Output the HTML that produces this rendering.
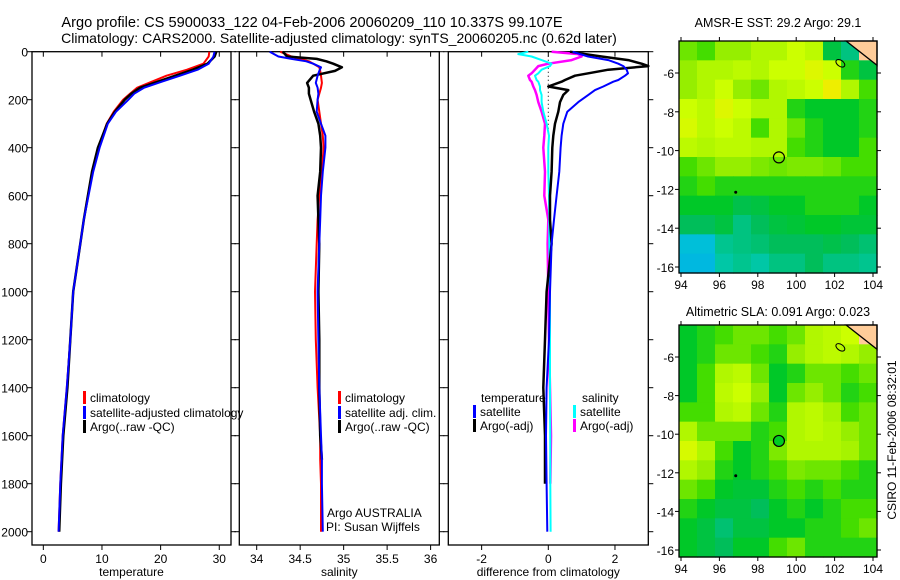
<!DOCTYPE html>
<html><head><meta charset="utf-8"><style>
body{margin:0;background:#fff;}
svg{display:block;font-family:"Liberation Sans",sans-serif;}
</style></head><body>
<svg id="s" width="900" height="580" viewBox="0 0 900 580">
<text x="312" y="27" font-size="14.6" text-anchor="middle">Argo profile: CS 5900033_122 04-Feb-2006 20060209_110 10.337S 99.107E</text>
<text x="339" y="43" font-size="14" text-anchor="middle">Climatology: CARS2000. Satellite-adjusted climatology: synTS_20060205.nc (0.62d later)</text>
<text x="778" y="27" font-size="12.5" text-anchor="middle">AMSR-E SST: 29.2 Argo: 29.1</text>
<text x="778" y="316" font-size="12.5" text-anchor="middle">Altimetric SLA: 0.091 Argo: 0.023</text>
<text transform="translate(896,440) rotate(-90)" font-size="12" text-anchor="middle">CSIRO 11-Feb-2006 08:32:01</text>
<g id="g"></g>
</svg>
<script>
// ---------- profile data ----------
const tDepth = [0,20,50,75,100,125,150,175,200,250,300,400,500,600,700,800,1000,1200,1400,1600,1800,2000];
const tClim  = [28.3,28.2,27.3,24.5,21,18.5,16,14.8,13.6,12,10.8,9.4,8.4,7.6,6.9,6.3,5.1,4.6,4.0,3.3,2.9,2.6];
const tSat   = [29.2,29.0,28.2,26.3,23.3,20.2,17.2,15.5,14.5,12.4,11,9.6,8.5,7.7,6.9,6.3,5.1,4.6,4.0,3.3,2.9,2.6];
const tArgo  = [29.5,29.2,28.0,25.5,22.5,19.5,16.5,15,13.9,12.2,10.9,9.3,8.3,7.6,6.9,6.3,5.1,4.6,4.1,3.4,3.0,2.7];
const sDepth = [0,20,30,40,50,65,80,100,130,150,175,200,250,300,350,400,500,600,700,800,1000,1200,1400,1600,1700,1800,2000];
const sClim  = [34.27,34.4,34.5,34.6,34.65,34.72,34.73,34.74,34.75,34.74,34.72,34.7,34.72,34.74,34.76,34.77,34.75,34.72,34.7,34.69,34.67,34.68,34.7,34.73,34.73,34.74,34.74];
const sSat   = [34.15,34.25,34.4,34.57,34.65,34.74,34.72,34.7,34.68,34.7,34.71,34.7,34.69,34.74,34.79,34.79,34.76,34.74,34.73,34.72,34.7,34.71,34.72,34.74,34.75,34.75,34.76];
const sArgo  = [34.3,34.35,34.69,34.8,34.88,34.98,34.9,34.65,34.58,34.6,34.6,34.62,34.66,34.71,34.73,34.74,34.73,34.7,34.71,34.72,34.71,34.72,34.72,34.73,34.75,null,null];
const dDepth = [0,10,20,35,50,60,75,90,100,118,125,145,160,180,210,250,300,350,400,500,600,700,800,1000,1200,1400,1600,1800,2000];
const dTSat  = [0.73,0.95,1.19,1.8,2.1,2.25,2.35,2.39,2.3,2.1,1.95,1.65,1.4,1.2,0.9,0.57,0.45,0.4,0.37,0.33,0.25,0.17,0.1,0.05,0.02,-0.05,-0.07,-0.05,-0.03];
const dTArgo = [0.65,1.1,1.6,2.4,2.8,3.0,1.8,1.2,0.8,0.5,0.4,0.0,0.6,0.45,0.35,0.3,0.2,0.15,0.12,0.1,0.05,0.05,0.1,-0.05,-0.1,-0.15,-0.1,-0.1,null];
const dSSat  = [-0.6,-0.9,-0.5,-0.2,0.1,0.05,-0.2,-0.3,-0.4,-0.35,-0.3,-0.25,-0.25,-0.2,-0.2,-0.15,-0.05,0.02,0.0,0.0,0.02,0.03,0.03,0.05,0.05,0.05,0.06,0.06,0.07];
const dSArgo = [0.1,0.9,1.0,0.7,0.0,-0.3,-0.4,-0.5,-0.6,-0.55,-0.5,-0.45,-0.4,-0.35,-0.3,-0.2,-0.1,-0.12,-0.15,-0.1,-0.12,0.0,-0.02,0.0,0.02,0.05,0.08,0.06,null];
const tTicks = [0,10,20,30];
const sTicks = [34,34.5,35,35.5,36];
const dTicks = [-2,0,2];
const depthTicks = [0,200,400,600,800,1000,1200,1400,1600,1800,2000];
// ---------- map data ----------
const sstGrid = [
[0.6,0.55,0.65,0.65,0.7,0.7,0.75,0.72,0.4,0.3,-1],
[0.65,0.7,0.7,0.72,0.7,0.75,0.75,0.8,0.75,0.5,0.4],
[0.65,0.7,0.75,0.65,0.6,0.7,0.72,0.75,0.85,0.7,0.55],
[0.75,0.72,0.8,0.75,0.7,0.7,0.5,0.45,0.45,0.45,0.5],
[0.78,0.72,0.75,0.72,0.55,0.7,0.6,0.5,0.45,0.45,0.5],
[0.72,0.7,0.72,0.72,0.7,0.7,0.55,0.5,0.45,0.45,0.55],
[0.55,0.6,0.65,0.65,0.62,0.6,0.62,0.62,0.6,0.55,0.55],
[0.5,0.55,0.5,0.5,0.5,0.5,0.5,0.5,0.5,0.5,0.5],
[0.45,0.45,0.45,0.38,0.4,0.45,0.45,0.5,0.5,0.5,0.45],
[0.35,0.35,0.4,0.3,0.35,0.4,0.42,0.45,0.45,0.42,0.42],
[0.15,0.15,0.28,0.3,0.32,0.35,0.35,0.35,0.38,0.35,0.32],
[0.12,0.12,0.25,0.28,0.25,0.3,0.3,0.35,0.3,0.3,0.28]];
const slaGrid = [
[0.45,0.5,0.55,0.6,0.6,0.55,0.6,0.7,0.72,0.75,-1],
[0.45,0.5,0.6,0.6,0.55,0.5,0.65,0.7,0.72,0.7,0.65],
[0.45,0.55,0.7,0.72,0.6,0.45,0.5,0.6,0.6,0.55,0.6],
[0.45,0.55,0.72,0.75,0.65,0.45,0.6,0.65,0.6,0.5,0.55],
[0.55,0.55,0.7,0.72,0.6,0.5,0.7,0.72,0.68,0.55,0.6],
[0.7,0.6,0.6,0.6,0.5,0.55,0.7,0.72,0.7,0.65,0.6],
[0.78,0.7,0.55,0.45,0.5,0.62,0.7,0.7,0.7,0.68,0.6],
[0.7,0.65,0.5,0.45,0.5,0.55,0.62,0.6,0.6,0.55,0.5],
[0.6,0.55,0.45,0.42,0.42,0.5,0.55,0.5,0.55,0.5,0.5],
[0.5,0.45,0.4,0.4,0.35,0.45,0.5,0.45,0.5,0.55,0.55],
[0.45,0.4,0.32,0.4,0.4,0.45,0.45,0.5,0.5,0.55,0.6],
[0.45,0.4,0.35,0.45,0.45,0.55,0.6,0.5,0.5,0.5,0.5]];
const lonTicks = [94,96,98,100,102,104];
const latTicks = [-6,-8,-10,-12,-14,-16];
const argoLon = 99.1, argoLat = -10.35;

const NS='http://www.w3.org/2000/svg';
const G=document.getElementById('g');
function mk(tag,attrs,parent){const e=document.createElementNS(NS,tag);for(const k in attrs)e.setAttribute(k,attrs[k]);(parent||G).appendChild(e);return e;}
function txt(x,y,s,size,anchor,parent){const t=mk('text',{x:x,y:y,'font-size':size,'text-anchor':anchor||'start'},parent);t.textContent=s;return t;}

const Y0=51.7, PXD=0.24;
function yD(d){return Y0+d*PXD;}
const PB=545;
function panel(name,x0,x1,vmin,vmax,ticks,label,showDepth){
  const sx=v=>x0+(v-vmin)/(vmax-vmin)*(x1-x0);
  const g=mk('g',{});
  
  
  const r=mk('rect',{x:x0,y:Y0,width:x1-x0,height:PB-Y0,fill:'none',stroke:'#000','stroke-width':1.3},g);
  
  
  ticks.forEach(v=>{
    mk('line',{x1:sx(v),x2:sx(v),y1:PB,y2:PB+5,stroke:'#000'},g);
    mk('line',{x1:sx(v),x2:sx(v),y1:Y0,y2:Y0+5,stroke:'#000'},g);
    const t=txt(sx(v),PB+18,String(v),12,'middle',g);
    
    
  });
  depthTicks.forEach(d=>{
    mk('line',{x1:x0-5,x2:x0,y1:yD(d),y2:yD(d),stroke:'#000'},g);
    mk('line',{x1:x1,x2:x1+5,y1:yD(d),y2:yD(d),stroke:'#000'},g);
    if(showDepth){const t=txt(x0-4,yD(d)+5,String(d),12,'end',g);
      
      }
  });
  const l=txt((x0+x1)/2,PB+31,label,12,'middle',g);
  
  
  return {sx,g};
}
function series(p,depths,vals,color,name,w,dash){
  let d='';let pen=false;
  depths.forEach((z,i)=>{const v=vals[i];if(v===null||v===undefined){pen=false;return;}
    d+=(pen?'L':'M')+p.sx(v).toFixed(1)+' '+yD(z).toFixed(1)+' ';pen=true;});
  const e=mk('path',{d:d,fill:'none',stroke:color,'stroke-width':w||2,'stroke-linejoin':'round'},p.g);
  if(dash)e.setAttribute('stroke-dasharray',dash);
  
  
}
function leg(g,x,y,color,label,name){
  const r=mk('rect',{x:x,y:y-11,width:3,height:13,fill:color},g);
  
  
  const t=txt(x+7,y,label,12,'start',g);
  
  
}
const p1=panel('temperature-panel',32,231,-1.93,32.0,tTicks,'temperature',true);
series(p1,tDepth,tClim,'#f00','temperature-climatology-line');
series(p1,tDepth,tArgo,'#000','temperature-argo-line',2.5);
series(p1,tDepth,tSat,'#00f','temperature-satellite-line');
leg(p1.g,83,402,'#f00','climatology','legend-climatology');
leg(p1.g,83,417,'#00f','satellite-adjusted climatology','legend-satellite');
leg(p1.g,83,431,'#000','Argo(..raw -QC)','legend-argo');
const p2=panel('salinity-panel',239.3,439.3,33.8,36.1,sTicks,'salinity',false);
series(p2,sDepth,sClim,'#f00','salinity-climatology-line');
series(p2,sDepth,sArgo,'#000','salinity-argo-line',2.5);
series(p2,sDepth,sSat,'#00f','salinity-satellite-line');
leg(p2.g,338,402,'#f00','climatology','legend2-climatology');
leg(p2.g,338,417,'#00f','satellite adj. clim.','legend2-satellite');
leg(p2.g,338,431,'#000','Argo(..raw -QC)','legend2-argo');
let a=txt(327,517,'Argo AUSTRALIA',12,'start',p2.g);


a=txt(326,531,'PI: Susan Wijffels',12,'start',p2.g);


const p3=panel('difference-panel',448.3,648.3,-3,3,dTicks,'difference from climatology',false);
const z=mk('line',{x1:p3.sx(0),x2:p3.sx(0),y1:yD(0),y2:yD(330),stroke:'#000','stroke-dasharray':'1,3'},p3.g);


series(p3,dDepth,dSArgo,'#f0f','salinity-argo-diff-line',2.5);
series(p3,dDepth,dSSat,'#0ff','salinity-satellite-diff-line');
series(p3,dDepth,dTArgo,'#000','temperature-argo-diff-line',2.5);
series(p3,dDepth,dTSat,'#00f','temperature-satellite-diff-line');
a=txt(481,402,'temperature',12,'start',p3.g);


a=txt(582,402,'salinity',12,'start',p3.g);


leg(p3.g,473,416,'#00f','satellite','legend3-temp-satellite');
leg(p3.g,473,430,'#000','Argo(-adj)','legend3-temp-argo');
leg(p3.g,573,416,'#0ff','satellite','legend3-sal-satellite');
leg(p3.g,573,430,'#f0f','Argo(-adj)','legend3-sal-argo');

const stops=[[0,[0,153,255]],[0.2,[0,204,204]],[0.35,[0,190,90]],[0.45,[0,200,40]],[0.55,[68,221,0]],[0.65,[150,238,0]],[0.75,[204,255,0]],[0.85,[238,238,0]],[1,[255,170,0]]];
function cmap(v){if(v<0)return '#ffcc99';
  for(let i=1;i<stops.length;i++){if(v<=stops[i][0]){const [a0,c0]=stops[i-1],[a1,c1]=stops[i];const f=(v-a0)/(a1-a0);
    return 'rgb('+c0.map((c,k)=>Math.round(c+(c1[k]-c)*f)).join(',')+')';}}return 'rgb(255,170,0)';}
function map(name,grid,yTop,yBot,latRef6,latRef16,filled){
  const x0=679,x1=877;
  const lonX=l=>681+(l-94)*(873-681)/10;
  const latY=l=>latRef6+(-6-l)*(latRef16-latRef6)/10;
  const g=mk('g',{});
  
  
  const rows=grid.length,cols=grid[0].length;
  const cw=(x1-x0)/cols,ch=(yBot-yTop)/rows;
  grid.forEach((row,i)=>row.forEach((v,j)=>{
    const c=mk('rect',{x:(x0+j*cw).toFixed(2),y:(yTop+i*ch).toFixed(2),width:(cw+0.6).toFixed(2),height:(ch+0.6).toFixed(2),fill:cmap(v)},g);
    
    
  }));
  const land=mk('polygon',{points:`${lonX(102.6)},${yTop} ${x1},${yTop} ${x1},${latY(-5.6)}`,fill:'#ffcc99',stroke:'#000','stroke-width':1.3},g);
  
  
  const isl=mk('ellipse',{cx:lonX(102.3),cy:latY(-5.5),rx:5,ry:3,fill:'none',stroke:'#000',transform:`rotate(35 ${lonX(102.3)} ${latY(-5.5)})`},g);
  
  
  const is2=mk('circle',{cx:lonX(96.85),cy:latY(-12.15),r:1.5,fill:'#000'},g);
  
  
  const c=mk('circle',{cx:lonX(argoLon),cy:latY(argoLat),r:5.5,fill:filled?'#00cc22':'none',stroke:'#000','stroke-width':1.2},g);
  
  
  const fr=mk('rect',{x:x0,y:yTop,width:x1-x0,height:yBot-yTop,fill:'none',stroke:'#000','stroke-width':1.3},g);
  
  
  lonTicks.forEach(l=>{mk('line',{x1:lonX(l),x2:lonX(l),y1:yBot,y2:yBot+4,stroke:'#000'},g);
    mk('line',{x1:lonX(l),x2:lonX(l),y1:yTop-4,y2:yTop,stroke:'#000'},g);
    const t=txt(lonX(l),yBot+16,String(l),12,'middle',g);
    
    });
  latTicks.forEach(l=>{mk('line',{x1:x0-4,x2:x0,y1:latY(l),y2:latY(l),stroke:'#000'},g);
    mk('line',{x1:x1,x2:x1+4,y1:latY(l),y2:latY(l),stroke:'#000'},g);
    const t=txt(x0-5,latY(l)+5,String(l),12,'end',g);
    
    });
}
map('sst-map',sstGrid,41,273,73,267,false);
map('sla-map',slaGrid,325,557,357,550,true);
</script>
</body></html>
